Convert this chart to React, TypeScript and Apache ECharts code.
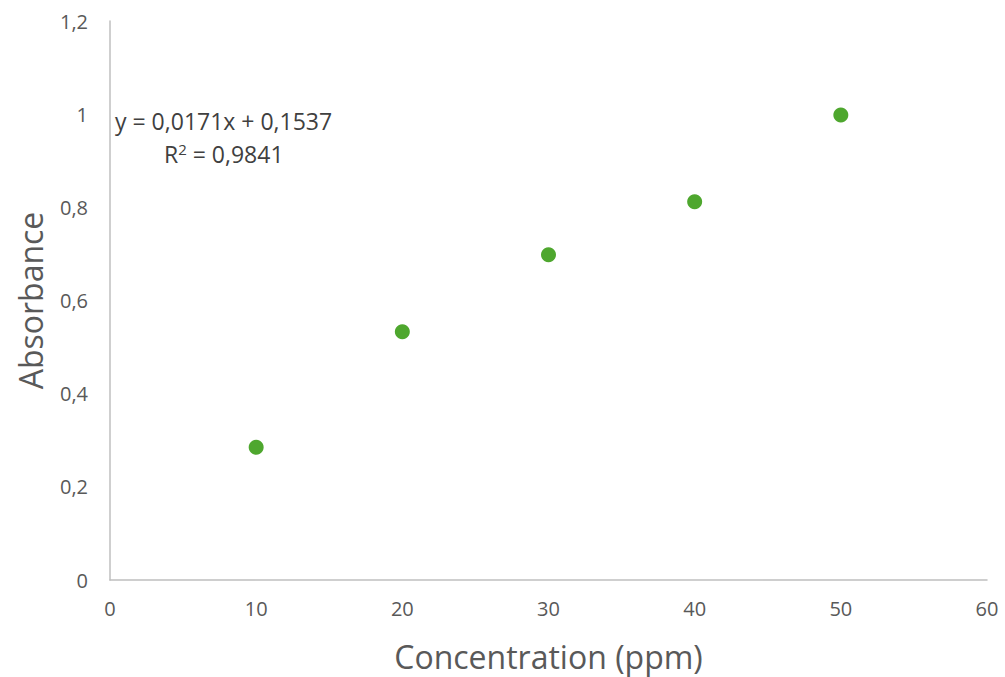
import React, { useEffect, useRef } from "react";
import * as echarts from "echarts";

const concentration = [10, 20, 30, 40, 50];
const absorbance = [0.285, 0.533, 0.698, 0.812, 0.998];
const equationText = "y = 0,0171x + 0,1537";
const r2Value = "0,9841";
const xAxisTitle = "Concentration (ppm)";
const yAxisTitle = "Absorbance";

const FONT = "Open Sans";

export default function App() {
  const ref = useRef<HTMLDivElement>(null);
  useEffect(() => {
    if (!ref.current) return;
    const chart = echarts.init(ref.current, undefined, { renderer: "svg" });
    const fmt = (v: number) => String(Math.round(v * 10) / 10).replace(".", ",");
    chart.setOption({
      animation: false,
      backgroundColor: "#ffffff",
      grid: { left: 110, right: 18, top: 21, bottom: 97, containLabel: false },
      xAxis: {
        type: "value",
        min: 0,
        max: 60,
        interval: 10,
        name: xAxisTitle,
        nameLocation: "middle",
        nameGap: 60,
        nameTextStyle: { fontSize: 32, color: "#595959", fontFamily: FONT },
        axisLine: { show: true, lineStyle: { color: "#bfbfbf", width: 1.5 } },
        axisTick: { show: false },
        splitLine: { show: false },
        axisLabel: { fontSize: 20, color: "#595959", fontFamily: FONT, margin: 18 },
      },
      yAxis: {
        type: "value",
        min: 0,
        max: 1.2,
        interval: 0.2,
        name: yAxisTitle,
        nameLocation: "middle",
        nameGap: 64,
        nameTextStyle: { fontSize: 32, color: "#595959", fontFamily: FONT },
        axisLine: { show: true, lineStyle: { color: "#bfbfbf", width: 1.5 } },
        axisTick: { show: false },
        splitLine: { show: false },
        axisLabel: { fontSize: 20, color: "#595959", fontFamily: FONT, margin: 22, formatter: fmt },
      },
      series: [
        {
          type: "scatter",
          data: concentration.map((c, i) => [c, absorbance[i]]),
          symbol: "circle",
          symbolSize: 15,
          itemStyle: { color: "#4EA72E", opacity: 1 },
        },
      ],
      graphic: [
        {
          type: "text",
          left: 115,
          top: 109,
          style: { text: equationText, fontSize: 23, fill: "#404040", fontFamily: FONT },
        },
        {
          type: "text",
          left: 164,
          top: 141,
          style: {
            text: "R{sup|2} = " + r2Value,
            fontSize: 23,
            fill: "#404040",
            fontFamily: FONT,
            rich: {
              sup: { fontSize: 15, fill: "#404040", fontFamily: FONT, verticalAlign: "top", padding: [0, 0, 10, 0] },
            },
          },
        },
      ],
    });
    return () => chart.dispose();
  }, []);
  return <div ref={ref} style={{ position: "fixed", left: 0, top: 0, width: 1005, height: 677 }} />;
}
